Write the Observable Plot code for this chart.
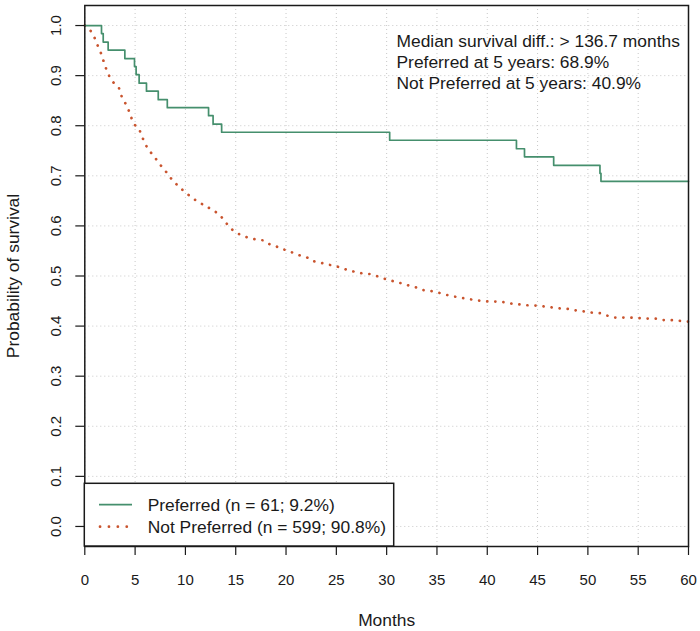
<!DOCTYPE html>
<html>
<head>
<meta charset="utf-8">
<script src="https://cdn.jsdelivr.net/npm/d3@7"></script>
<script src="https://cdn.jsdelivr.net/npm/@observablehq/plot@0.6"></script>
<style>
  html, body { margin: 0; padding: 0; background: #fff; }
  #chart { position: relative; width: 700px; height: 631px; }
</style>
</head>
<body>
<div id="chart"></div>
<script>
// ---- data ----
const xTicks = [0, 5, 10, 15, 20, 25, 30, 35, 40, 45, 50, 55, 60];
const yTicks = [0.0, 0.1, 0.2, 0.3, 0.4, 0.5, 0.6, 0.7, 0.8, 0.9, 1.0];

const prefTimes = [0, 1.66, 1.83, 2.32, 3.98, 4.94, 5.1, 5.4, 6.13, 7.3, 8.2, 12.3, 12.75, 13.6, 30.3, 42.9, 43.7, 46.6, 51.2, 51.3, 60];
const prefSurv  = [1.0, 0.984, 0.967, 0.951, 0.934, 0.918, 0.902, 0.885, 0.869, 0.852, 0.836, 0.820, 0.803, 0.787, 0.771, 0.754, 0.738, 0.721, 0.705, 0.689, 0.689];

const notPrefTimes = [0, 0.47, 0.9, 1.3, 1.6, 1.93, 2.2, 2.55, 2.9, 3.4, 3.75, 4.2, 4.6, 4.94, 5.4, 5.64, 6.13, 6.5, 6.96, 7.3, 7.7, 8.2, 8.6, 9.0, 9.45, 9.85, 10.3, 10.7, 11.5, 12.0, 12.5, 13.0, 13.5, 14.0, 14.5, 15.0, 15.5, 16.0, 16.97, 17.8, 18.3, 18.96, 19.5, 20.2, 20.8, 21.4, 22.1, 22.6, 23.4, 24.0, 24.75, 25.4, 26.1, 26.7, 27.6, 28.3, 29.0, 29.7, 30.3, 31.05, 31.7, 32.3, 33.0, 33.6, 34.4, 35.1, 35.8, 36.5, 37.2, 37.9, 38.7, 39.5, 40.3, 41.2, 42.0, 42.6, 43.5, 44.2, 45.0, 45.8, 46.6, 47.4, 48.2, 48.9, 49.7, 50.4, 51.2, 51.9, 52.6, 53.4, 54.2, 55.1, 55.9, 56.7, 57.5, 58.3, 59.0, 59.7, 60];
const notPrefSurv  = [1.0, 0.993, 0.979, 0.959, 0.945, 0.925, 0.909, 0.894, 0.885, 0.875, 0.853, 0.840, 0.817, 0.802, 0.794, 0.780, 0.759, 0.748, 0.737, 0.727, 0.717, 0.705, 0.694, 0.685, 0.677, 0.669, 0.662, 0.655, 0.646, 0.638, 0.635, 0.628, 0.620, 0.607, 0.595, 0.587, 0.582, 0.578, 0.573, 0.571, 0.564, 0.560, 0.554, 0.551, 0.545, 0.541, 0.537, 0.530, 0.527, 0.523, 0.521, 0.517, 0.512, 0.509, 0.505, 0.504, 0.500, 0.495, 0.492, 0.487, 0.485, 0.480, 0.477, 0.472, 0.470, 0.467, 0.463, 0.460, 0.457, 0.455, 0.452, 0.450, 0.449, 0.449, 0.447, 0.444, 0.443, 0.441, 0.441, 0.439, 0.437, 0.435, 0.434, 0.431, 0.429, 0.427, 0.426, 0.421, 0.417, 0.417, 0.417, 0.416, 0.415, 0.415, 0.412, 0.412, 0.411, 0.409, 0.409];

const seriesNames = ["Preferred (n = 61; 9.2%)", "Not Preferred (n = 599; 90.8%)"];
const annotationLines = ["Median survival diff.: > 136.7 months", "Preferred at 5 years: 68.9%", "Not Preferred at 5 years: 40.9%"];
const xLabel = "Months";
const yLabel = "Probability of survival";

// ---- build ----
const GREEN = "#458f6d";
const RED = "#c9542e";
const INK = "#1a1a1a";
const FONT = "'Liberation Sans', Arial, Helvetica, sans-serif";
const TICK_FS = 15, TEXT_FS = 17.4;

const pref = prefTimes.map((t, i) => ({t, s: prefSurv[i]}));
const notPref = notPrefTimes.map((t, i) => ({t, s: notPrefSurv[i]}));

const mL = 84.3, mR = 12, mT = 5, mB = 85, W = 700, H = 631;

const svg = Plot.plot({
  width: W, height: H,
  marginLeft: mL, marginRight: mR, marginTop: mT, marginBottom: mB,
  style: {fontFamily: FONT, background: "#fff", color: INK},
  x: {domain: [0, 60]},
  y: {domain: [-0.04, 1.04]},
  marks: [
    Plot.gridX(xTicks, {stroke: "#c8c8c8", strokeOpacity: 1, strokeDasharray: "1,3"}),
    Plot.gridY(yTicks, {stroke: "#c8c8c8", strokeOpacity: 1, strokeDasharray: "1,3"}),
    Plot.line(notPref, {x: "t", y: "s", stroke: RED, strokeWidth: 2.7, strokeDasharray: "0.1,8", strokeLinecap: "round"}),
    Plot.line(pref, {x: "t", y: "s", curve: "step-after", stroke: GREEN, strokeWidth: 1.7}),
    Plot.axisX({ticks: xTicks, tickSize: 9, fill: "none", stroke: INK, strokeWidth: 1.2, label: null}),
    Plot.axisY({ticks: yTicks, tickSize: 9, fill: "none", stroke: INK, strokeWidth: 1.2, label: null}),
    Plot.text(xTicks, {x: d => d, frameAnchor: "bottom", dy: 33.5, text: d => String(d), fontSize: TICK_FS, fill: INK, lineAnchor: "middle"}),
    Plot.text(yTicks, {y: d => d, frameAnchor: "left", dx: -29, rotate: -90, text: d => d.toFixed(1), fontSize: TICK_FS, fill: INK, textAnchor: "middle", lineAnchor: "middle"}),
    Plot.text([xLabel], {frameAnchor: "bottom", dy: 74, text: d => d, fontSize: TEXT_FS, fill: INK, lineAnchor: "middle"}),
    Plot.text([yLabel], {frameAnchor: "left", dx: -71, rotate: -90, text: d => d, fontSize: TEXT_FS, fill: INK, textAnchor: "middle", lineAnchor: "middle"}),
    Plot.text([annotationLines.join("\n")], {frameAnchor: "top-left", dx: 311.7, dy: 27, text: d => d, fontSize: TEXT_FS, fill: INK, textAnchor: "start", lineAnchor: "top", lineHeight: 1.19}),
    Plot.frame({stroke: INK, strokeWidth: 1.5})
  ]
});

// ---- legend (bottom-left, inside the plot box) ----
const lg = d3.select(svg).append("g").attr("font-family", FONT).attr("font-size", TEXT_FS).attr("text-anchor", "start");
const lx0 = mL, lx1 = 393.7, ly0 = 483.3, ly1 = H - mB;
lg.append("rect").attr("x", lx0).attr("y", ly0).attr("width", lx1 - lx0).attr("height", ly1 - ly0)
  .attr("fill", "#fff").attr("stroke", INK).attr("stroke-width", 1.5);
const rows = [
  {name: seriesNames[0], color: GREEN, dash: null, width: 1.7, base: 510.7},
  {name: seriesNames[1], color: RED, dash: "0.1,8.8", width: 2.7, base: 532.7}
];
rows.forEach(r => {
  const ly = r.base - 6;
  const ln = lg.append("line").attr("x1", 99).attr("x2", 132).attr("y1", ly).attr("y2", ly)
    .attr("stroke", r.color).attr("stroke-width", r.width);
  if (r.dash) ln.attr("stroke-dasharray", r.dash).attr("stroke-linecap", "round").attr("x1", 100);
  lg.append("text").attr("x", 147.7).attr("y", r.base).attr("fill", INK).attr("text-anchor", "start").text(r.name);
});

document.getElementById("chart").appendChild(svg);
</script>
</body>
</html>
